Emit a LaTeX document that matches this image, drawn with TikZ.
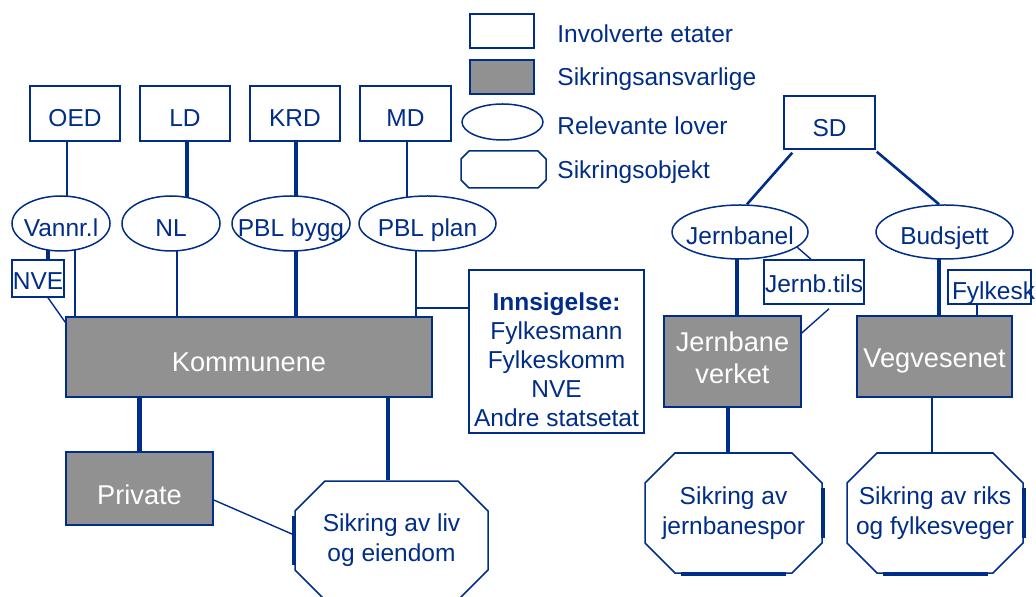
\documentclass[tikz,border=0pt]{standalone}
\usepackage{fontspec}
\setmainfont{Liberation Sans}
\usetikzlibrary{shapes.geometric,shapes.misc,backgrounds}

\definecolor{navy}{RGB}{0,45,135}
\definecolor{ansvargray}{RGB}{145,145,145}
\newcommand{\zw}[1]{\makebox[0pt]{#1}}
\newcommand{\zwl}[1]{\makebox[0pt]{\begin{tabular}{@{}c@{}}#1\end{tabular}}}

\begin{document}
\begin{tikzpicture}[x=0.5pt, y=-0.5pt,
    every node/.style={text=navy, inner sep=0pt, font=\fontsize{12.25}{15}\selectfont},
    senk/.style={text height=#1, text depth=0pt},
    senk/.default=13pt,
    etat/.style={rectangle, draw=navy, line width=0.75pt, fill=white},
    ansvar/.style={rectangle, draw=navy, line width=0.75pt, fill=ansvargray, text=white, font=\fontsize{13.6}{16}\selectfont},
    lov/.style={ellipse, draw=navy, line width=0.75pt, fill=white, senk},
    objekt/.style={chamfered rectangle, chamfered rectangle sep=17.5pt, draw=navy, line width=0.75pt, fill=white},
    link/.style={navy, line width=1.3pt},
    tyk/.style={navy, line width=2.1pt},
    tynn/.style={navy, line width=0.7pt}]

    \useasboundingbox (0,0) rectangle (1036,597);

    % --- Legend ---
    \node[etat, minimum width=32pt, minimum height=17pt] (legEtat) at (502,31) {};
    \node[ansvar, minimum width=32pt, minimum height=17pt] (legAnsvar) at (502,77) {};
    \node[ellipse, draw=navy, line width=0.75pt, minimum width=40.5pt, minimum height=18pt] (legLov) at (502.5,122) {};
    \node[objekt, chamfered rectangle sep=4pt, minimum width=42.5pt, minimum height=18.5pt] (legObjekt) at (503.5,169.5) {\zw{\rule{0pt}{10pt}}};
    \node[anchor=west] (txEtat) at (557,34) {Involverte etater};
    \node[anchor=west] (txAnsvar) at (557,79) {Sikringsansvarlige};
    \node[anchor=west] (txLov) at (557,126) {Relevante lover};
    \node[anchor=west] (txObjekt) at (557,172) {Sikringsobjekt};

    % --- Departementer ---
    \node[etat, senk, minimum width=45pt, minimum height=27.5pt] (OED) at (75,113.5) {OED};
    \node[etat, senk, minimum width=45pt, minimum height=27.5pt] (LD) at (185,113.5) {LD};
    \node[etat, senk, minimum width=45pt, minimum height=27.5pt] (KRD) at (295,113.5) {KRD};
    \node[etat, senk, minimum width=45.5pt, minimum height=27.5pt] (MD) at (405.5,113.5) {MD};
    \node[etat, senk=14pt, minimum width=45.5pt, minimum height=26.5pt] (SD) at (829.5,122.5) {SD};

    % --- Lover ---
    \node[lov, minimum width=49pt, minimum height=27.5pt] (vann) at (61,223.5) {\zw{Vannr.l}};
    \node[lov, minimum width=49pt, minimum height=27.5pt] (nl) at (171,223.5) {\zw{NL}};
    \node[lov, minimum width=59pt, minimum height=27.5pt] (pblb) at (291,223.5) {\zw{PBL bygg}};
    \node[lov, minimum width=68.5pt, minimum height=27.5pt] (pblp) at (427.5,223.5) {\zw{PBL plan}};
    \node[lov, minimum width=68pt, minimum height=27pt] (jbl) at (740,232) {\zw{Jernbanel}};
    \node[lov, minimum width=68.5pt, minimum height=27pt] (bud) at (944.5,232) {\zw{Budsjett}};

    % --- Etater ---
    \node[etat, senk=11pt, minimum width=26pt, minimum height=18.5pt] (nve) at (38,278.5) {\zw{NVE}};
    \node[etat, senk=11pt, minimum width=50pt, minimum height=22pt] (jbtils) at (814,282) {\zw{Jernb.tils}};
    \node[etat, senk, minimum width=41.5pt, minimum height=17pt] (fylk) at (989.5,287) {\zw{\hspace{4pt}Fylkesk}};
    \node[etat, minimum width=87.5pt, minimum height=81.5pt, font=\fontsize{12.25}{14.5}\selectfont] (innsig) at (556.5,351.5)
        {\raisebox{-8.5pt}[0pt][0pt]{\zwl{\textbf{Innsigelse:}\\Fylkesmann\\Fylkeskomm\\NVE\\Andre statsetat}}};

    % --- Sikringsansvarlige ---
    \node[ansvar, senk=15pt, minimum width=183pt, minimum height=40pt] (kom) at (249,357) {Kommunene};
    \node[ansvar, senk=16pt, minimum width=73.5pt, minimum height=36.5pt] (priv) at (139.5,488.5) {Private};
    \node[ansvar, minimum width=68.5pt, minimum height=45.5pt] (jbv) at (732.5,361.5)
        {\zwl{Jernbane\\verket}};
    \node[ansvar, senk=11.5pt, minimum width=77.5pt, minimum height=40.5pt] (veg) at (934.5,356.5) {\zw{Vegvesenet}};

    % --- Sikringsobjekt ---
    \node[objekt, minimum width=96.5pt, minimum height=59.5pt] (liv) at (391.5,540.5) {\zwl{Sikring av liv\\og eiendom}};
    \node[objekt, minimum width=88.5pt, minimum height=60pt] (jbs) at (733.5,513) {\zwl{Sikring av\\jernbanespor}};
    \node[objekt, minimum width=88pt, minimum height=60pt] (riks) at (935,513) {\zwl{Sikring av riks\\og fylkesveger}};

    \draw[tyk] ([yshift=12.25pt]liv.west) -- ([yshift=-12.25pt]liv.west);
    \draw[tyk] ([yshift=12.5pt]jbs.east) -- ([yshift=-12.5pt]jbs.east);
    \draw[tyk] ([xshift=-26.25pt]jbs.south) -- ([xshift=26.25pt]jbs.south);
    \draw[tyk] ([yshift=12.5pt]riks.east) -- ([yshift=-12.5pt]riks.east);
    \draw[tyk] ([xshift=-26.25pt]riks.south) -- ([xshift=26.25pt]riks.south);

    \begin{scope}[on background layer]
    % departementer til lover
    \draw[link] ([xshift=-4pt]OED.south) -- ([xshift=-4pt]OED.south |- vann.center);
    \draw[tyk] ([xshift=1pt]LD.south) -- ([xshift=1pt]LD.south |- nl.center);
    \draw[tyk] ([xshift=0.5pt]KRD.south) -- ([xshift=0.5pt]KRD.south |- pblb.center);
    \draw[link] ([xshift=0.75pt]MD.south) -- ([xshift=0.75pt]MD.south |- pblp.center);
    \draw[link] ([xshift=4.5pt,yshift=-1.5pt]SD.south west) -- ([xshift=3.5pt]jbl.north);
    \draw[link] ([xshift=0.5pt,yshift=-1pt]SD.south east) -- ([xshift=-2.75pt]bud.north);

    % lover til kommunene
    \draw[tyk] ([xshift=-6.5pt]vann.center) -- ([xshift=-6.5pt]vann.center |- nve.north);
    \draw[link] ([xshift=7pt]vann.center) -- ([xshift=7pt]vann.center |- kom.center);
    \draw[tynn] ([xshift=5pt]nve.south) -- ([yshift=-3pt]kom.north west);
    \draw[link] ([xshift=3pt]nl.center) -- ([xshift=3pt]nl.center |- kom.center);
    \draw[tyk] ([xshift=2.5pt]pblb.center) -- ([xshift=2.5pt]pblb.center |- kom.center);
    \draw[link] ([xshift=-5.75pt]pblp.center) -- ([xshift=-5.75pt]pblp.center |- kom.center);
    \draw[link] ([xshift=-5.75pt]pblp.south) |- ([yshift=21.75pt]innsig.west);

    % kommunene til objekt
    \draw[tyk] (priv.north) -- (priv.north |- kom.center);
    \draw[tyk] ([xshift=-1.75pt]liv.north) -- ([xshift=-1.75pt]liv.north |- kom.center);
    \draw[tynn] ([yshift=-5.75pt]priv.east) -- ([yshift=2.75pt]liv.west);

    % jernbane og veg
    \draw[tynn] (jbl.-15) -- ([xshift=-1.5pt]jbtils.north);
    \draw[tynn] ([xshift=7.5pt,yshift=-2pt]jbtils.south) -- ([yshift=14.25pt]jbv.east);
    \draw[tyk] ([xshift=2.25pt]jbv.north) -- ([xshift=2.25pt]jbv.north |- jbl.center);
    \draw[tyk] ([xshift=2.25pt]veg.north) -- ([xshift=2.25pt]veg.north |- bud.center);
    \draw[link] ([xshift=-6.25pt]fylk.south) -- ([xshift=-6.25pt]fylk.south |- veg.north);
    \draw[tyk] ([xshift=-2.25pt]jbv.south) -- ([xshift=-2.25pt]jbv.south |- jbs.north);
    \draw[link] ([xshift=-1.25pt]veg.south) -- ([xshift=-1.25pt]veg.south |- riks.north);
    \end{scope}
\end{tikzpicture}
\end{document}
